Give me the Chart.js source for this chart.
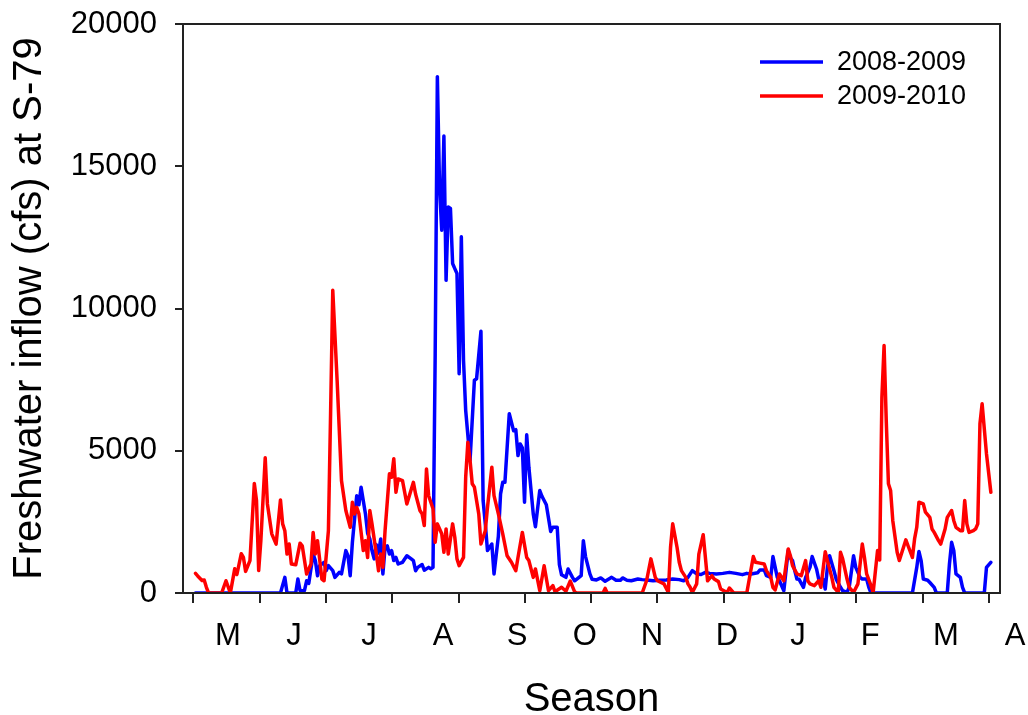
<!DOCTYPE html>
<html>
<head>
<meta charset="utf-8">
<title>Freshwater inflow at S-79</title>
<script src="https://cdn.jsdelivr.net/npm/chart.js@4.4.1/dist/chart.umd.min.js"></script>
<style>
  html, body { margin: 0; padding: 0; background: #fff; }
  canvas { display: block; }
</style>
</head>
<body>
<canvas id="flow" width="1028" height="715"></canvas>
<script>
// days are counted from 1 May of the first year of each season
const seasons = ['2008-2009', '2009-2010'];
const seasonColors = ['#0000ff', '#ff0000'];

const monthLabels = ['M', 'J', 'J', 'A', 'S', 'O', 'N', 'D', 'J', 'F', 'M', 'A'];
const monthLabelDays = [15.9, 46.2, 80.6, 114.6, 148.6, 179.7, 210.5, 244.9, 277.5, 310.6, 345.4, 377.1];
const monthTickDays = [0, 30.4, 60.9, 91.3, 121.7, 152.1, 182.6, 213, 243.4, 273.8, 304.3, 334.7, 365.1];

const flowTicks = [0, 5000, 10000, 15000, 20000];

const blueDays = [
  1, 40, 42, 43, 47, 48, 49, 51, 52, 53, 55, 56, 57, 58, 60, 61, 62, 64, 65, 67,
  68, 70, 71, 72, 73, 75, 76, 77, 79, 80, 81, 82, 83, 84, 85, 86, 87, 88, 89, 90,
  91, 92, 93, 94, 96, 98, 100, 101, 102, 103, 105, 106, 108, 109, 110, 111, 112, 113, 114, 115,
  116, 117, 118, 119, 120, 121, 122, 123, 124, 125, 127, 129, 130, 132, 133, 134, 135, 137, 138, 140,
  141, 142, 143, 145, 147, 148, 149, 150, 151, 152, 153, 154, 156, 157, 159, 160, 162, 164, 165, 167,
  168, 169, 171, 172, 174, 175, 178, 179, 180, 182, 183, 185, 187, 189, 192, 194, 196, 197, 199, 201,
  204, 206, 208, 211, 214, 217, 220, 223, 225, 227, 229, 231, 233, 235, 237, 240, 243, 246, 249, 252,
  254, 256, 259, 260, 262, 263, 265, 266, 268, 269, 271, 273, 274, 275, 276, 277, 278, 280, 281, 283,
  284, 286, 287, 289, 290, 291, 292, 294, 295, 297, 298, 300, 301, 303, 304, 306, 307, 309, 310, 311,
  330, 332, 333, 334, 335, 337, 338, 340, 341, 346, 347, 348, 349, 350, 352, 353, 354, 363, 364, 366
];
const blueFlow = [
  0, 0, 550, 0, 0, 490, 80, 80, 430, 340, 1370, 1140, 610, 960, 1080, 785, 960, 785, 550, 725,
  670, 1490, 1300, 610, 1780, 3420, 3100, 3720, 2780, 2100, 1900, 1490, 1200, 1700, 1400, 1900, 670, 1600, 1660, 1370,
  1490, 1140, 1250, 1020, 1080, 1310, 1200, 1140, 785, 900, 1000, 800, 900, 850, 900, 8400, 18150, 14280, 12750, 16060,
  10990, 13570, 13520, 11580, 11400, 11230, 7710, 12520, 8180, 6420, 4660, 7480, 7530, 9200, 3250, 2430, 1490, 1720, 670, 2000,
  3480, 3890, 3890, 6300, 5700, 5740, 4830, 5240, 5100, 3190, 5560, 4420, 2780, 2330, 3600, 3400, 3100, 2160, 2310, 2310,
  1000, 640, 550, 845, 550, 430, 610, 1840, 1280, 670, 480, 460, 530, 410, 550, 450, 450, 530, 450, 430,
  490, 470, 460, 430, 450, 460, 490, 470, 430, 550, 785, 670, 650, 725, 690, 670, 690, 725, 690, 645,
  690, 670, 710, 810, 810, 610, 550, 1280, 550, 430, 80, 1490, 1230, 1140, 785, 490, 480, 200, 550, 900,
  1280, 845, 490, 480, 140, 900, 1310, 785, 490, 200, 80, 20, 200, 1310, 900, 550, 490, 490, 200, 0,
  0, 900, 1460, 1140, 490, 450, 370, 200, 0, 0, 1020, 1780, 1490, 670, 550, 200, 0, 0, 900, 1080
];

const redDays = [
  1, 2, 3, 4, 5, 6, 7, 13, 15, 17, 19, 20, 22, 23, 24, 26, 28, 29, 30, 31,
  33, 34, 36, 38, 40, 41, 42, 43, 44, 45, 47, 49, 50, 52, 54, 55, 56, 57, 59, 60,
  62, 63, 64, 66, 68, 70, 72, 73, 74, 75, 76, 78, 79, 80, 81, 82, 84, 85, 86, 87,
  88, 90, 91, 92, 93, 94, 96, 98, 101, 102, 104, 105, 106, 107, 108, 110, 111, 112, 114, 115,
  116, 117, 119, 120, 121, 122, 124, 125, 126, 127, 128, 129, 131, 132, 134, 135, 137, 138, 140, 142,
  144, 146, 148, 149, 151, 153, 154, 156, 157, 159, 161, 163, 165, 166, 169, 171, 173, 175, 176, 188,
  189, 190, 206, 208, 210, 212, 213, 216, 218, 219, 220, 222, 223, 224, 226, 227, 228, 229, 231, 232,
  234, 235, 236, 238, 239, 241, 242, 245, 246, 248, 254, 255, 257, 258, 260, 262, 263, 265, 266, 267,
  269, 271, 273, 274, 275, 277, 279, 281, 282, 283, 285, 287, 288, 290, 291, 293, 294, 296, 297, 298,
  300, 301, 303, 305, 307, 308, 309, 311, 312, 314, 315, 316, 317, 318, 319, 320, 321, 323, 324, 327,
  328, 330, 331, 332, 333, 335, 336, 338, 339, 340, 342, 343, 345, 346, 348, 349, 350, 352, 353, 354,
  355, 356, 358, 359, 360, 361, 362, 364, 366
];
const redFlow = [
  690, 600, 520, 440, 460, 200, 0, 0, 430, 0, 850, 650, 1380, 1250, 760, 1140, 3850, 3250, 790, 1840,
  4750, 3130, 2080, 1720, 3270, 2430, 2190, 1370, 1720, 1020, 990, 1750, 1660, 670, 1020, 2130, 1370, 1840, 490, 430,
  2190, 6310, 10640, 7470, 3950, 2900, 2310, 3190, 2780, 3010, 2780, 1490, 1840, 1250, 2900, 2430, 1370, 785, 1370, 900,
  2190, 4190, 4070, 4720, 3540, 4010, 3950, 3130, 3890, 3480, 2900, 2780, 2370, 4360, 3420, 2960, 1780, 2430, 2080, 1430,
  2250, 1370, 2430, 1960, 1200, 960, 1250, 4070, 5300, 4660, 3840, 3720, 2780, 1720, 2190, 3010, 4420, 3420, 2780, 2080,
  1310, 1080, 785, 1250, 2130, 1250, 1140, 550, 845, 80, 960, 80, 260, 45, 200, 60, 420, 40, 0, 0,
  160, 0, 0, 430, 1200, 550, 430, 320, 20, 1600, 2430, 1600, 1080, 785, 550, 320, 200, 20, 320, 1370,
  2050, 1250, 430, 610, 490, 400, 140, 20, 175, 0, 0, 430, 1280, 1080, 1050, 1020, 785, 550, 200, 105,
  670, 430, 1550, 1310, 960, 670, 610, 1140, 430, 320, 260, 430, 200, 1450, 1140, 550, 200, 20, 1430, 1200,
  490, 200, 20, 320, 1720, 1250, 670, 260, 20, 1490, 1160, 6880, 8700, 6060, 3840, 3600, 2540, 1430, 1140, 1870,
  1660, 1250, 1900, 2310, 3190, 3130, 2840, 2660, 2250, 2130, 1840, 1720, 2250, 2660, 2900, 2540, 2310, 2190, 2190, 3250,
  2430, 2130, 2190, 2250, 2430, 5950, 6650, 4890, 3540
];

const FONT = '"Liberation Sans", Arial, Helvetica, sans-serif';
const dayMin = -4.73;
const dayMax = 370.2;

const toPoints = (days, flow) => days.map((d, i) => ({ x: d, y: flow[i] }));

// box round the plot area and the in-plot legend
const frameAndKey = {
  id: 'frameAndKey',
  afterDatasetsDraw(chart) {
    const { ctx, chartArea: a } = chart;
    ctx.save();
    ctx.strokeStyle = '#222';
    ctx.lineWidth = 2;
    ctx.strokeRect(a.left, a.top, a.right - a.left, a.bottom - a.top);

    ctx.font = '27px ' + FONT;
    ctx.textBaseline = 'middle';
    ctx.fillStyle = '#000';
    chart.data.datasets.forEach((ds, i) => {
      const y = 62 + i * 34;
      ctx.strokeStyle = ds.borderColor;
      ctx.lineWidth = 3.5;
      ctx.beginPath();
      ctx.moveTo(760, y);
      ctx.lineTo(823, y);
      ctx.stroke();
      ctx.fillText(ds.label, 837, y + 1);
    });
    ctx.restore();
  }
};

new Chart(document.getElementById('flow'), {
  type: 'line',
  data: {
    datasets: [
      { label: seasons[0], data: toPoints(blueDays, blueFlow), borderColor: seasonColors[0], order: 1 },
      { label: seasons[1], data: toPoints(redDays, redFlow), borderColor: seasonColors[1], order: 0 }
    ]
  },
  options: {
    responsive: false,
    animation: false,
    events: [],
    layout: { padding: { top: 24, right: 28, left: 0, bottom: 0 } },
    elements: {
      line: { borderWidth: 3.5, tension: 0, fill: false, borderJoinStyle: 'round', borderCapStyle: 'round' },
      point: { radius: 0 }
    },
    plugins: { legend: { display: false }, tooltip: { enabled: false } },
    scales: {
      x: {
        type: 'linear',
        position: 'bottom',
        min: dayMin,
        max: dayMax,
        bounds: 'data',
        afterBuildTicks: s => { s.ticks = monthTickDays.map(v => ({ value: v })); },
        ticks: { display: false },
        grid: { drawOnChartArea: false, drawTicks: true, tickLength: 10, color: '#222', lineWidth: 2 },
        border: { display: false },
        afterFit: s => { s.height = 10; s.paddingLeft = 0; s.paddingRight = 0; }
      },
      months: {
        type: 'linear',
        position: 'bottom',
        weight: 1,
        min: dayMin,
        max: dayMax,
        bounds: 'data',
        afterBuildTicks: s => { s.ticks = monthLabelDays.map(v => ({ value: v })); },
        ticks: {
          autoSkip: false,
          maxRotation: 0,
          padding: 7,
          color: '#000',
          font: { family: FONT, size: 31 },
          callback: (v, i) => monthLabels[i]
        },
        grid: { display: false },
        border: { display: false },
        title: {
          display: true,
          text: 'Season',
          color: '#000',
          font: { family: FONT, size: 40, lineHeight: 0.75 },
          padding: { top: 0, bottom: 0 }
        },
        afterFit: s => { s.height = 112; s.paddingLeft = 0; s.paddingRight = 0; }
      },
      y: {
        type: 'linear',
        min: 0,
        max: 20000,
        afterBuildTicks: s => { s.ticks = flowTicks.map(v => ({ value: v })); },
        ticks: {
          padding: 18,
          color: '#000',
          font: { family: FONT, size: 31 },
          callback: v => String(v)
        },
        grid: { drawOnChartArea: false, drawTicks: true, tickLength: 8, color: '#222', lineWidth: 2 },
        border: { display: false },
        title: {
          display: true,
          text: 'Freshwater inflow (cfs) at S-79',
          color: '#000',
          font: { family: FONT, size: 40, lineHeight: 1.2 },
          padding: { top: 6, bottom: 0 }
        },
        afterFit: s => { s.width = 183; s.paddingTop = 0; s.paddingBottom = 0; }
      }
    }
  },
  plugins: [frameAndKey]
});
</script>
</body>
</html>
